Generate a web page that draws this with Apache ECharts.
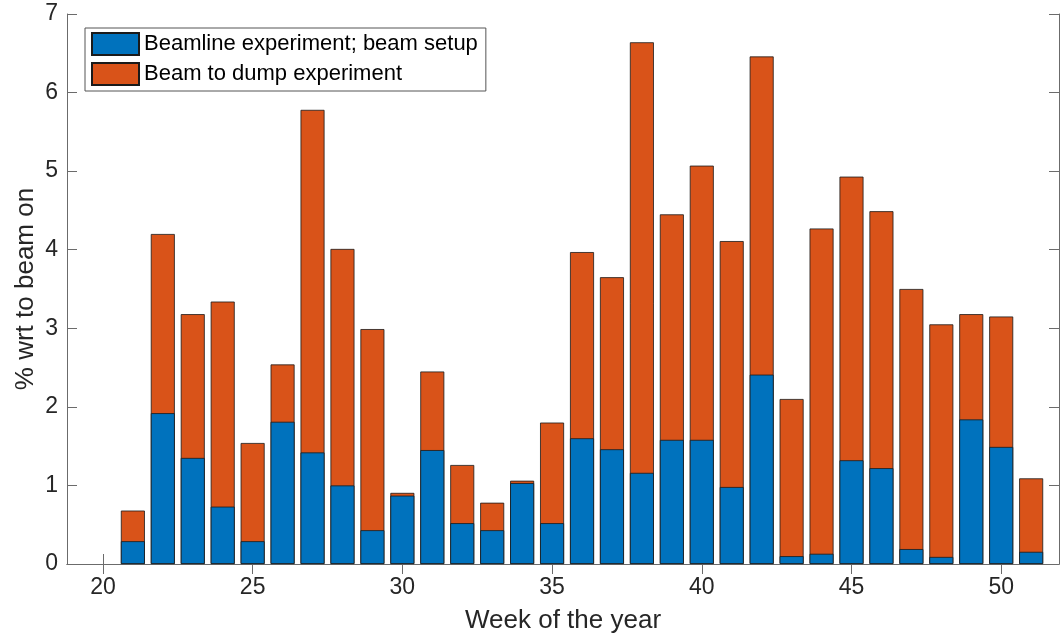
<!DOCTYPE html>
<html>
<head>
<meta charset="utf-8">
<script src="https://cdn.jsdelivr.net/npm/echarts@6/dist/echarts.min.js"></script>
<style>
  html, body { margin: 0; padding: 0; background: #fff; }
  #chart { width: 1061px; height: 639px; }
</style>
</head>
<body>
<div id="chart"></div>
<script>
// weeks 21..51
var weeks = [21,22,23,24,25,26,27,28,29,30,31,32,33,34,35,36,37,38,39,40,41,42,43,44,45,46,47,48,49,50,51];
// blue part: beamline experiment; beam setup
var beamline = [0.29,1.92,1.35,0.73,0.29,1.81,1.42,1.00,0.43,0.87,1.45,0.52,0.43,1.03,0.52,1.60,1.46,1.16,1.58,1.58,0.98,2.41,0.10,0.13,1.32,1.22,0.19,0.09,1.84,1.49,0.155];
// bar totals (blue + beam to dump)
var totals = [0.68,4.20,3.18,3.34,1.54,2.54,5.78,4.01,2.99,0.905,2.45,1.26,0.78,1.06,1.80,3.97,3.65,6.64,4.45,5.07,4.11,6.46,2.10,4.27,4.93,4.49,3.50,3.05,3.18,3.15,1.09];
var xTicks = [20,25,30,35,40,45,50];

// orange bar is drawn full height behind, blue sits in front from 0
var blueData = [], totalData = [];
for (var i = 0; i < weeks.length; i++) {
    blueData.push([weeks[i], beamline[i]]);
    totalData.push([weeks[i], totals[i]]);
}

var axisGrey = '#6b6b6b';
var textCol = '#262626';
var font = 'Liberation Sans';

var chart = echarts.init(document.getElementById('chart'));
chart.setOption({
    animation: false,
    grid: { left: 67, top: 14, right: 2, bottom: 73, containLabel: false },
    legend: {
        left: 85, top: 28,
        orient: 'vertical',
        icon: 'rect',
        itemWidth: 47, itemHeight: 22, itemGap: 6,
        padding: [4, 8, 5, 6],
        borderColor: '#555', borderWidth: 1,
        backgroundColor: '#fff',
        textStyle: { fontFamily: font, fontSize: 22, color: '#000' },
        data: ['Beamline experiment; beam setup', 'Beam to dump experiment']
    },
    xAxis: [{
        type: 'value', min: 18.8, max: 51.93,
        name: 'Week of the year', nameLocation: 'middle', nameGap: 44,
        nameTextStyle: { fontFamily: font, fontSize: 26, color: textCol },
        axisLine: { show: true, lineStyle: { color: axisGrey, width: 1 } },
        axisTick: { show: true, inside: true, length: 10, customValues: xTicks, lineStyle: { color: axisGrey } },
        axisLabel: { customValues: xTicks, margin: 12, fontFamily: font, fontSize: 23, color: textCol },
        splitLine: { show: false }
    }, {
        type: 'value', min: 18.8, max: 51.93, position: 'top',
        axisLine: { show: true, lineStyle: { color: axisGrey, width: 1 } },
        axisTick: { show: true, inside: true, length: 10, customValues: xTicks, lineStyle: { color: axisGrey } },
        axisLabel: { show: false },
        splitLine: { show: false }
    }],
    yAxis: [{
        type: 'value', min: 0, max: 7, interval: 1,
        name: '% wrt to beam on', nameLocation: 'middle', nameGap: 28, nameRotate: 90,
        nameMoveOverlap: false,
        nameTextStyle: { fontFamily: font, fontSize: 26, color: textCol },
        axisLine: { show: true, lineStyle: { color: axisGrey, width: 1 } },
        axisTick: { show: true, inside: true, length: 10, lineStyle: { color: axisGrey } },
        axisLabel: { margin: 9, fontFamily: font, fontSize: 23, color: textCol },
        splitLine: { show: false }
    }, {
        type: 'value', min: 0, max: 7, interval: 1, position: 'right',
        axisLine: { show: true, lineStyle: { color: axisGrey, width: 1 } },
        axisTick: { show: true, inside: true, length: 10, lineStyle: { color: axisGrey } },
        axisLabel: { show: false },
        splitLine: { show: false }
    }],
    series: [{
        name: 'Beam to dump experiment',
        type: 'bar', barWidth: 24, barGap: '-100%',
        xAxisIndex: 0, yAxisIndex: 0,
        itemStyle: { color: '#D95319', borderColor: '#1a1a1a', borderWidth: 0.8 },
        data: totalData
    }, {
        name: 'Beamline experiment; beam setup',
        type: 'bar', barWidth: 24, barGap: '-100%',
        xAxisIndex: 0, yAxisIndex: 0,
        itemStyle: { color: '#0072BD', borderColor: '#1a1a1a', borderWidth: 0.8 },
        data: blueData
    }]
});
</script>
</body>
</html>
